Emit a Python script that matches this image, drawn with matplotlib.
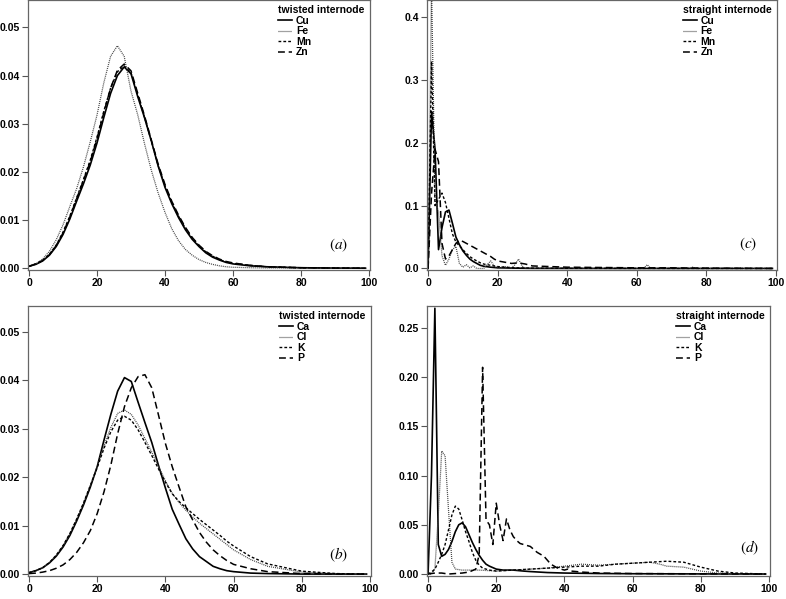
import numpy as np
import matplotlib
matplotlib.use('Agg')
import matplotlib.pyplot as plt

plt.rcParams['font.family'] = ['Liberation Sans', 'DejaVu Sans']
plt.rcParams['mathtext.fontset'] = 'stix'

# Rejilla comun para los paneles suaves (a) y (b)
grid_x = [0, 2, 4, 6, 8, 10, 12, 14, 16, 18, 20, 22, 24, 26, 28, 30, 32, 34, 36, 38,
          40, 42, 44, 46, 48, 50, 52, 54, 56, 58, 60, 65, 70, 80, 90, 99]

# Panel (a): twisted internode, Cu Fe Mn Zn
a_cu = [0.0004, 0.0008, 0.0015, 0.0027, 0.0045, 0.0070, 0.0102, 0.0139, 0.0175, 0.0214,
        0.0260, 0.0313, 0.0363, 0.0400, 0.0418, 0.0404, 0.0356, 0.0312, 0.0264, 0.0212,
        0.0168, 0.0134, 0.0105, 0.0080, 0.0060, 0.0045, 0.0032, 0.0023, 0.0017, 0.0012,
        0.0009, 0.0005, 0.0003, 0.0001, 0.00003, 0.0]
a_fe = [0.0004, 0.0009, 0.0019, 0.0035, 0.0059, 0.0090, 0.0128, 0.0165, 0.0210, 0.0262,
        0.0318, 0.0385, 0.0440, 0.0462, 0.0440, 0.0368, 0.0318, 0.0258, 0.0203, 0.0156,
        0.0116, 0.0082, 0.0057, 0.0039, 0.0027, 0.0018, 0.0012, 0.0008, 0.0005, 0.0003,
        0.0002, 0.0001, 0.00005, 0.0, 0.0, 0.0]
a_mn = [0.0004, 0.0009, 0.0016, 0.0029, 0.0048, 0.0075, 0.0108, 0.0146, 0.0184, 0.0224,
        0.0272, 0.0326, 0.0374, 0.0408, 0.0420, 0.0406, 0.0360, 0.0313, 0.0264, 0.0213,
        0.0171, 0.0137, 0.0108, 0.0083, 0.0063, 0.0047, 0.0034, 0.0025, 0.0018, 0.0013,
        0.0010, 0.0006, 0.0003, 0.0001, 0.00003, 0.0]
a_zn = [0.0004, 0.0009, 0.0016, 0.0028, 0.0047, 0.0073, 0.0106, 0.0144, 0.0182, 0.0221,
        0.0269, 0.0323, 0.0374, 0.0411, 0.0424, 0.0410, 0.0363, 0.0316, 0.0266, 0.0216,
        0.0174, 0.0139, 0.0110, 0.0085, 0.0064, 0.0048, 0.0035, 0.0026, 0.0019, 0.0014,
        0.0011, 0.0006, 0.0003, 0.0001, 0.00003, 0.0]

# Panel (b): twisted internode, Ca Cl K P
b_ca = [0.0003, 0.0007, 0.0013, 0.0023, 0.0037, 0.0056, 0.0080, 0.0110, 0.0143, 0.0180,
        0.0222, 0.0277, 0.0330, 0.0378, 0.0406, 0.0398, 0.0355, 0.0313, 0.0272, 0.0224,
        0.0178, 0.0134, 0.0103, 0.0073, 0.0052, 0.0036, 0.0026, 0.0016, 0.0011, 0.0007,
        0.0005, 0.0002, 0.0001, 0.0, 0.0, 0.0]
b_cl = [0.0003, 0.0007, 0.0013, 0.0024, 0.0039, 0.0059, 0.0084, 0.0114, 0.0147, 0.0184,
        0.0222, 0.0265, 0.0303, 0.0332, 0.0339, 0.0330, 0.0308, 0.0280, 0.0252, 0.0222,
        0.0193, 0.0167, 0.0148, 0.0132, 0.0118, 0.0105, 0.0094, 0.0083, 0.0072, 0.0061,
        0.0050, 0.0030, 0.0016, 0.0004, 0.0001, 0.0]
b_k = [0.0003, 0.0007, 0.0013, 0.0024, 0.0039, 0.0059, 0.0084, 0.0114, 0.0147, 0.0183,
       0.0220, 0.0260, 0.0294, 0.0318, 0.0326, 0.0318, 0.0298, 0.0272, 0.0245, 0.0217,
       0.0190, 0.0166, 0.0150, 0.0137, 0.0125, 0.0113, 0.0102, 0.0091, 0.0080, 0.0068,
       0.0058, 0.0036, 0.0021, 0.0006, 0.0001, 0.0]
b_p = [0.0001, 0.0002, 0.0004, 0.0007, 0.0012, 0.0019, 0.0030, 0.0045, 0.0065, 0.0090,
       0.0125, 0.0170, 0.0225, 0.0290, 0.0346, 0.0385, 0.0408, 0.0412, 0.0385, 0.0328,
       0.0270, 0.0222, 0.0180, 0.0139, 0.0112, 0.0086, 0.0066, 0.0050, 0.0038, 0.0028,
       0.0020, 0.0011, 0.0005, 0.0001, 0.0, 0.0]

# Panel (c): straight internode, Cu Fe Mn Zn
c_cu_x = [0, 1, 2, 3, 4, 5, 6, 7, 8, 9, 10, 11, 12, 13, 14, 15, 16, 18, 20, 25, 30, 40, 60, 80, 99]
c_cu = [0.0, 0.25, 0.19, 0.03, 0.065, 0.09, 0.093, 0.072, 0.05, 0.038, 0.028, 0.021, 0.015,
        0.011, 0.008, 0.005, 0.0035, 0.002, 0.001, 0.0005, 0.0002, 0.0001, 0.0, 0.0, 0.0]
c_fe_x = [0, 1, 2, 3, 4, 5, 6, 7, 8, 9, 10, 11, 12, 13, 14, 16, 17, 18, 19, 20, 22, 24, 25,
          26, 27, 28, 40, 62, 63, 64, 75, 76, 77, 99]
c_fe = [0.0, 0.45, 0.11, 0.09, 0.02, 0.005, 0.015, 0.03, 0.035, 0.008, 0.002, 0.006, 0.001,
        0.004, 0.0, 0.0, 0.006, 0.012, 0.004, 0.001, 0.003, 0.001, 0.006, 0.015, 0.004, 0.0,
        0.0, 0.0, 0.006, 0.0, 0.0, 0.002, 0.0, 0.0]
c_mn_x = [0, 1, 2, 3, 4, 5, 6, 7, 8, 9, 10, 11, 12, 13, 14, 15, 16, 18, 20, 22, 25, 30, 40, 60, 99]
c_mn = [0.0, 0.33, 0.10, 0.11, 0.12, 0.105, 0.08, 0.055, 0.042, 0.036, 0.03, 0.024, 0.019,
        0.015, 0.012, 0.009, 0.007, 0.005, 0.003, 0.002, 0.001, 0.0005, 0.0002, 0.0001, 0.0]
c_zn_x = [0, 1, 2, 3, 4, 5, 6, 7, 8, 9, 10, 11, 12, 13, 14, 15, 16, 17, 18, 19, 20, 22, 24,
          26, 28, 30, 35, 40, 50, 60, 70, 80, 99]
c_zn = [0.0, 0.12, 0.19, 0.17, 0.04, 0.015, 0.02, 0.03, 0.04, 0.045, 0.043, 0.04, 0.037,
        0.034, 0.031, 0.028, 0.025, 0.022, 0.019, 0.015, 0.012, 0.01, 0.008, 0.009, 0.007,
        0.004, 0.003, 0.002, 0.0015, 0.001, 0.001, 0.0005, 0.0]

# Panel (d): straight internode, Ca Cl K P
d_ca_x = [0, 1, 2, 3, 4, 5, 6, 7, 8, 9, 10, 11, 12, 13, 14, 15, 16, 17, 18, 20, 22, 25, 28,
          30, 35, 40, 50, 60, 70, 80, 99]
d_ca = [0.0, 0.10, 0.27, 0.03, 0.018, 0.02, 0.025, 0.033, 0.043, 0.05, 0.052, 0.048, 0.04,
        0.032, 0.025, 0.019, 0.014, 0.01, 0.008, 0.005, 0.004, 0.004, 0.003, 0.0025, 0.0015,
        0.001, 0.0005, 0.0003, 0.0002, 0.0001, 0.0]
d_cl_x = [0, 1, 2, 3, 4, 5, 6, 7, 8, 10, 15, 20, 25, 30, 35, 40, 45, 50, 55, 60, 65, 68, 70,
          75, 80, 85, 90, 99]
d_cl = [0.0, 0.0, 0.005, 0.06, 0.125, 0.12, 0.065, 0.012, 0.005, 0.004, 0.004, 0.003, 0.004,
        0.005, 0.006, 0.008, 0.010, 0.009, 0.010, 0.011, 0.012, 0.010, 0.008, 0.007, 0.003,
        0.001, 0.0005, 0.0]
d_k_x = [0, 1, 2, 3, 4, 5, 6, 7, 8, 9, 10, 11, 12, 13, 14, 15, 16, 18, 20, 25, 30, 35, 40,
         45, 50, 55, 60, 65, 70, 75, 80, 85, 90, 99]
d_k = [0.0, 0.002, 0.005, 0.012, 0.02, 0.03, 0.045, 0.06, 0.069, 0.066, 0.055, 0.043, 0.033,
       0.022, 0.014, 0.009, 0.006, 0.004, 0.003, 0.004, 0.005, 0.006, 0.007, 0.008, 0.008,
       0.010, 0.011, 0.012, 0.013, 0.012, 0.007, 0.003, 0.001, 0.0]
d_p_x = [0, 2, 4, 6, 8, 10, 12, 14, 15, 16, 17, 18, 19, 20, 21, 22, 23, 24, 25, 26, 27, 28,
         30, 32, 34, 35, 36, 38, 40, 41, 42, 45, 50, 60, 80, 99]
d_p = [0.0, 0.001, 0.001, 0.0, 0.0005, 0.001, 0.002, 0.005, 0.02, 0.21, 0.055, 0.05, 0.03,
       0.072, 0.05, 0.034, 0.056, 0.045, 0.038, 0.034, 0.031, 0.030, 0.028, 0.022, 0.018,
       0.014, 0.010, 0.006, 0.004, 0.005, 0.003, 0.002, 0.001, 0.0005, 0.0002, 0.0]

# Estilos de linea: solido, punteado, rayas cortas, rayas largas
estilos = [
    dict(color='black', lw=1.2, linestyle='-'),
    dict(color='#444444', lw=0.9, linestyle=(0, (0.8, 0.8))),
    dict(color='black', lw=1.0, linestyle=(0, (2.0, 1.5))),
    dict(color='black', lw=1.1, linestyle=(0, (4.5, 2.5))),
]

tick_font = dict(fontsize=7.5, fontweight='bold')


def panel(fig, rect, series, labels, title, ylim, yticks, yfmt, letra, letra_pos):
    ax = fig.add_axes(rect)
    for (xs, ys), lab, st in zip(series, labels, estilos):
        ax.plot(xs, ys, label=lab, **st)
    ax.set_xlim(-0.3, 100.3)
    ax.set_ylim(*ylim)
    ax.set_xticks([0, 20, 40, 60, 80, 100])
    ax.set_yticks(yticks)
    ax.set_yticklabels([yfmt.format(v) for v in yticks], **tick_font)
    ax.set_xticklabels(['0', '20', '40', '60', '80', '100'], **tick_font)
    ax.tick_params(direction='out', length=4, width=0.8, color='#555555', pad=2)
    for s in ax.spines.values():
        s.set_color('#666666')
        s.set_linewidth(0.9)
    leg = ax.legend(loc='upper right', frameon=False, title=title,
                    title_fontproperties={'weight': 'bold', 'size': 7.5},
                    prop={'weight': 'bold', 'size': 7.5}, alignment='left',
                    handlelength=1.3, handletextpad=0.4, labelspacing=0.05,
                    borderaxespad=0.3, borderpad=0.2)
    ax.text(letra_pos[0], letra_pos[1], letra, transform=ax.transAxes,
            fontsize=11, ha='center', va='center')
    return ax


fig = plt.figure(figsize=(7.86, 5.99), dpi=100)

panel(fig, [0.0356, 0.549, 0.4351, 0.451],
      [(grid_x, a_cu), (grid_x, a_fe), (grid_x, a_mn), (grid_x, a_zn)],
      ['Cu', 'Fe', 'Mn', 'Zn'], 'twisted internode',
      (-0.0004, 0.0557), [0, 0.01, 0.02, 0.03, 0.04, 0.05], '{:.2f}',
      r'$(a)$', (0.909, 0.093))

panel(fig, [0.5433, 0.549, 0.4452, 0.451],
      [(c_cu_x, c_cu), (c_fe_x, c_fe), (c_mn_x, c_mn), (c_zn_x, c_zn)],
      ['Cu', 'Fe', 'Mn', 'Zn'], 'straight internode',
      (-0.0027, 0.4276), [0, 0.1, 0.2, 0.3, 0.4], '{:.1f}',
      r'$(c)$', (0.917, 0.096))

panel(fig, [0.0356, 0.0384, 0.4364, 0.4508],
      [(grid_x, b_ca), (grid_x, b_cl), (grid_x, b_k), (grid_x, b_p)],
      ['Ca', 'Cl', 'K', 'P'], 'twisted internode',
      (-0.0004, 0.0554), [0, 0.01, 0.02, 0.03, 0.04, 0.05], '{:.2f}',
      r'$(b)$', (0.904, 0.078))

panel(fig, [0.5433, 0.0384, 0.4364, 0.4508],
      [(d_ca_x, d_ca), (d_cl_x, d_cl), (d_k_x, d_k), (d_p_x, d_p)],
      ['Ca', 'Cl', 'K', 'P'], 'straight internode',
      (-0.002, 0.2723), [0, 0.05, 0.10, 0.15, 0.20, 0.25], '{:.2f}',
      r'$(d)$', (0.939, 0.103))

fig.savefig('out.png', dpi=100)
